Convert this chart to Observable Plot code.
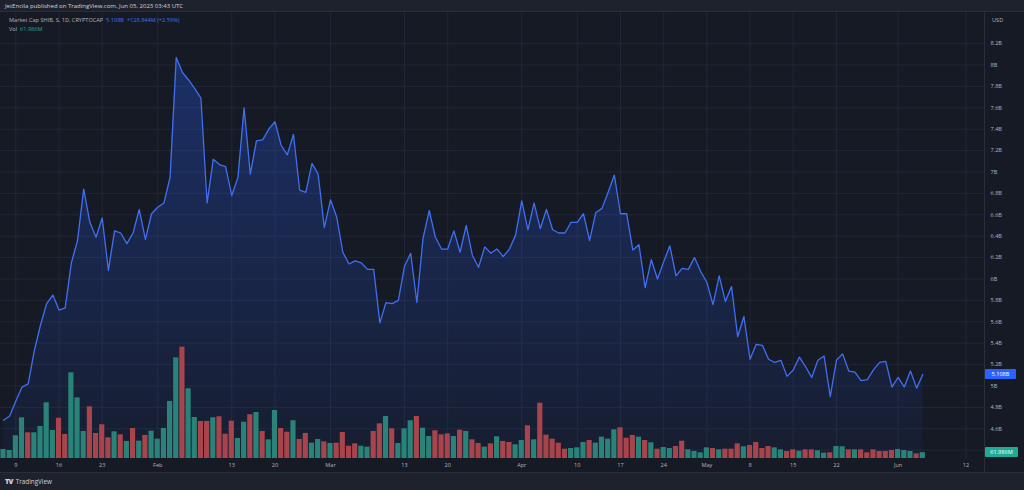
<!DOCTYPE html>
<html>
<head>
<meta charset="utf-8">
<script src="https://cdn.jsdelivr.net/npm/d3@7"></script>
<script src="https://cdn.jsdelivr.net/npm/@observablehq/plot@0.6"></script>
<style>
  html, body { margin:0; padding:0; background:#1e222d; width:1024px; height:490px; overflow:hidden; }
  body { font-family: "Open Sans", "Liberation Sans", sans-serif; }
  #wrap { position:relative; width:1024px; height:490px; }
  #header { position:absolute; left:0; top:0; width:1024px; height:12px; background:#1e222d; color:#d1d4dc;
            font-size:6px; line-height:12px; padding-left:5px; box-sizing:border-box; border-bottom:1px solid #2a2e39; }
  #chart { position:absolute; left:0; top:12px; width:1024px; height:460px; background:#161a25; }
  #chart svg { position:absolute; left:0; top:0; }
  #legend { position:absolute; left:9px; top:16px; font-size:5.6px; color:#b2b5be; line-height:9px; white-space:nowrap; }
  #legend .blue { color:#3f70f5; }
  #legend .teal { color:#22ab94; }
  #usd { position:absolute; left:992px; top:16px; font-size:5.6px; color:#b2b5be; }
  .tag { position:absolute; left:985px; height:10px; line-height:10px; font-size:5.6px; color:#fff; text-align:center; border-radius:1px; }
  #sepV { position:absolute; left:984px; top:12px; width:1px; height:460px; background:#2a2e39; }
  #footer { position:absolute; left:0; top:472px; width:1024px; height:18px; background:#1e222d; color:#d1d4dc;
            font-size:6.3px; line-height:18px; padding-left:5px; box-sizing:border-box; border-top:1px solid #2a2e39; }
  #footer b { font-weight:800; letter-spacing:-0.6px; margin-right:3px; font-size:7px; }
</style>
</head>
<body>
<div id="wrap">
  <div id="header">JetEncila published on TradingView.com, Jun 05, 2023 03:43 UTC</div>
  <div id="chart"></div>
  <div id="sepV"></div>
  <div id="footer"><b>TV</b>TradingView</div>
</div>
<script>
// ---- data (daily, 2023-01-07 .. 2023-06-05) ----
const startDay = Date.UTC(2023, 0, 7);
const capB = [
  4.68, 4.72, 4.86, 4.99, 5.02, 5.33, 5.57, 5.77, 5.85, 5.71,
  5.73, 6.15, 6.36, 6.84, 6.53, 6.39, 6.57, 6.08, 6.45, 6.43,
  6.33, 6.43, 6.65, 6.37, 6.61, 6.67, 6.71, 6.95, 8.07, 7.93,
  7.86, 7.78, 7.69, 6.71, 7.12, 7.07, 7.05, 6.78, 6.95, 7.60,
  6.98, 7.29, 7.30, 7.40, 7.47, 7.25, 7.16, 7.35, 6.83, 6.81,
  7.08, 6.98, 6.48, 6.74, 6.58, 6.25, 6.14, 6.17, 6.15, 6.09,
  6.09, 5.59, 5.78, 5.77, 5.80, 6.12, 6.24, 5.78, 6.38, 6.64,
  6.39, 6.28, 6.28, 6.45, 6.25, 6.50, 6.22, 6.11, 6.30, 6.24,
  6.28, 6.21, 6.28, 6.41, 6.73, 6.46, 6.71, 6.47, 6.65, 6.46,
  6.43, 6.43, 6.53, 6.53, 6.61, 6.36, 6.62, 6.66, 6.81, 6.97,
  6.61, 6.61, 6.27, 6.32, 5.92, 6.18, 6.00, 6.16, 6.31, 6.03,
  6.10, 6.09, 6.20, 6.07, 5.97, 5.76, 6.03, 5.79, 5.93, 5.46,
  5.65, 5.25, 5.39, 5.38, 5.25, 5.22, 5.24, 5.09, 5.15, 5.27,
  5.18, 5.08, 5.24, 5.28, 4.90, 5.24, 5.30, 5.14, 5.13, 5.05,
  5.06, 5.15, 5.22, 5.23, 4.99, 5.08, 4.99, 5.14, 4.98, 5.108
];
const volM = [
  95, 84, 238, 427, 270, 270, 336, 585, 294, 423,
  252, 900, 637, 284, 543, 263, 354, 217, 280, 249,
  179, 315, 182, 242, 287, 203, 315, 599, 1057, 1169,
  732, 431, 389, 389, 427, 438, 255, 392, 210, 381,
  459, 483, 284, 196, 504, 315, 276, 396, 200, 263,
  161, 200, 175, 158, 161, 273, 129, 154, 129, 119,
  284, 364, 441, 312, 158, 312, 396, 441, 318, 231,
  291, 249, 259, 231, 297, 284, 196, 158, 119, 154,
  228, 179, 168, 144, 189, 343, 196, 581, 245, 203,
  161, 98, 105, 112, 168, 189, 161, 224, 203, 301,
  322, 213, 242, 224, 189, 165, 98, 116, 105, 126,
  182, 91, 74, 60, 112, 105, 91, 98, 98, 154,
  123, 137, 168, 105, 126, 112, 91, 74, 91, 77,
  91, 91, 81, 56, 60, 126, 123, 91, 91, 91,
  60, 91, 74, 74, 84, 95, 84, 74, 49, 61.986
];
// u = up (teal) bar, d = down (red) bar
const volDir = (
  "uuuuduuuud" + "duuuddddud" + "ududuuuuud" + "uudduddduu" + "duduuddudd" +
  "uududdddu" + "u" + "dduduuuduu" + "dddududdud" + "udduududdd" + "dduuuduuuu" +
  "dddududuud" + "duuuududdd" + "udddduuddu" + "dduuduudud" + "ddddduuudu"
).split("");
const xTickDates = ["2023-01-09","2023-01-16","2023-01-23","2023-02-01","2023-02-13","2023-02-20",
  "2023-03-01","2023-03-13","2023-03-20","2023-04-01","2023-04-10","2023-04-17","2023-04-24",
  "2023-05-01","2023-05-08","2023-05-15","2023-05-22","2023-06-01","2023-06-12"];
const yTicks = [4.4, 4.6, 4.8, 5.0, 5.2, 5.4, 5.6, 5.8, 6.0, 6.2, 6.4, 6.6, 6.8, 7.0, 7.2, 7.4, 7.6, 7.8, 8.0, 8.2];
const yLabelTicks = [4.6, 4.8, 5.0, 5.2, 5.4, 5.6, 5.8, 6.0, 6.2, 6.4, 6.6, 6.8, 7.0, 7.2, 7.4, 7.6, 7.8, 8.0, 8.2];
const lastCapLabel = "5.108B";
const lastVolLabel = "61.986M";

// ---- build ----
const DAY = 864e5;
const data = capB.map((c, i) => ({ date: new Date(startDay + i * DAY), cap: c, vol: volM[i], dir: volDir[i] }));
const xTicks = xTickDates.map(s => new Date(s + "T00:00:00Z"));
const xDomain = [new Date(startDay - 0.486 * DAY), new Date(startDay + 159 * DAY)];
const yMin = 4.3224, yMax = 8.4907;
const fontFam = '"Open Sans", "Liberation Sans", sans-serif';
const fmtX = d => d.getUTCDate() === 1 ? d3.utcFormat("%b")(d) : String(d.getUTCDate());
const fmtY = d => (+d.toFixed(1)) + "B";

const main = Plot.plot({
  width: 1024, height: 460,
  marginTop: 0, marginBottom: 14, marginLeft: 0, marginRight: 40,
  style: { background: "transparent", color: "#b2b5be", fontSize: "5.6px", fontFamily: fontFam },
  x: { type: "utc", domain: xDomain, label: null },
  y: { domain: [yMin, yMax], label: null },
  marks: [
    Plot.gridY(yTicks, { stroke: "#232735", strokeOpacity: 1 }),
    Plot.gridX(xTicks, { stroke: "#232735", strokeOpacity: 1 }),
    Plot.areaY(data, { x: "date", y1: () => yMin, y2: "cap", fill: "url(#capGrad)" }),
    Plot.lineY(data, { x: "date", y: "cap", stroke: "#3f6ff2", strokeWidth: 1.3 }),
    Plot.axisY(yLabelTicks, { anchor: "right", label: null, tickSize: 0, tickPadding: 6, tickFormat: fmtY, textAnchor: "start", fill: "#b2b5be" }),
    Plot.axisX(xTicks, { anchor: "bottom", label: null, tickSize: 0, tickPadding: 5, tickFormat: fmtX, fill: "#b2b5be" })
  ]
});
d3.select(main).insert("defs", ":first-child").html(
  '<linearGradient id="capGrad" x1="0" y1="0" x2="0" y2="1">' +
  '<stop offset="0" stop-color="#2962ff" stop-opacity="0.30"/>' +
  '<stop offset="1" stop-color="#2962ff" stop-opacity="0.05"/></linearGradient>');

const vol = Plot.plot({
  width: 1024, height: 460,
  marginTop: 0, marginBottom: 14, marginLeft: 0, marginRight: 40,
  style: { background: "transparent" },
  x: { type: "utc", domain: xDomain, axis: null },
  y: { domain: [0, 446 * 10.5], axis: null },
  color: { domain: ["u", "d"], range: ["#2a8378", "#a8444b"] },
  marks: [
    Plot.rectY(data, {
      x1: d => new Date(+d.date - DAY / 2), x2: d => new Date(+d.date + DAY / 2),
      y: "vol", fill: "dir", insetLeft: 0.5, insetRight: 0.5
    })
  ]
});

const chart = document.getElementById("chart");
chart.appendChild(main);
chart.appendChild(vol);

// legend + tags
const wrap = document.getElementById("wrap");
const leg = document.createElement("div");
leg.id = "legend";
leg.innerHTML = 'Market Cap SHIB, S, 1D, CRYPTOCAP &nbsp;<span class="blue">' + lastCapLabel +
  ' &nbsp;+128.844M (+2.59%)</span><br>Vol &nbsp;<span class="teal">' + lastVolLabel + '</span>';
wrap.appendChild(leg);
const usd = document.createElement("div");
usd.id = "usd"; usd.textContent = "USD";
wrap.appendChild(usd);

const yS = main.scale("y"), vS = vol.scale("y");
const t1 = document.createElement("div");
t1.className = "tag"; t1.textContent = lastCapLabel;
t1.style.background = "#2962ff"; t1.style.width = "31px";
t1.style.top = (12 + yS.apply(capB[capB.length - 1]) - 5) + "px";
wrap.appendChild(t1);
const t2 = document.createElement("div");
t2.className = "tag"; t2.textContent = lastVolLabel;
t2.style.background = "#22ab94"; t2.style.width = "33px";
t2.style.top = (12 + vS.apply(volM[volM.length - 1]) - 5) + "px";
wrap.appendChild(t2);
</script>
</body>
</html>
